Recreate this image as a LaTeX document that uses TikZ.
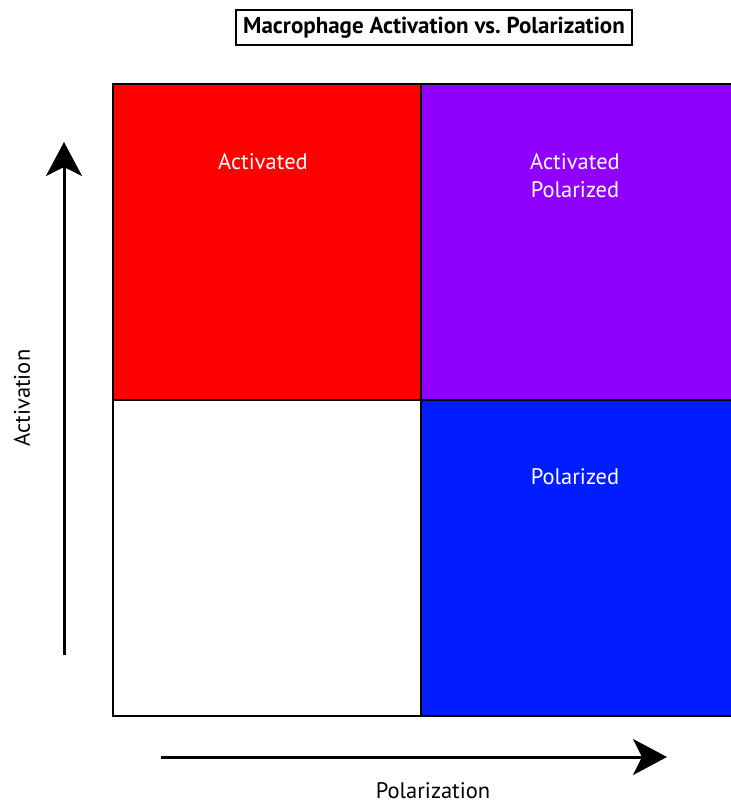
\documentclass[tikz,border=0pt]{standalone}
\usepackage{fontspec}
\setmainfont{PT Sans}
\usetikzlibrary{arrows.meta}
\definecolor{qred}{RGB}{255,0,0}
\definecolor{qpurple}{RGB}{143,0,255}
\definecolor{qblue}{RGB}{0,28,255}
\tikzset{
  quad/.style={draw=black, line width=2pt, minimum width=308pt, minimum height=316pt, inner sep=0pt, outer sep=0pt},
  qlabel/.style={text=white, font=\fontsize{22.5pt}{28pt}\selectfont, align=center},
  axlabel/.style={text=black, font=\fontsize{22.5pt}{27pt}\selectfont},
  axarrow/.style={line width=3pt, -{Stealth[length=34pt, width=36pt, inset=9pt]}}
}
\begin{document}
\begin{tikzpicture}[x=1pt,y=1pt]
\useasboundingbox (0,0) rectangle (731,-801);
\clip (0,0) rectangle (731,-801);
% quadrants
\node[quad, fill=white]  (ll) at (267,-558) {};
\node[quad, fill=qred]   (ul) at (267,-242) {};
\node[quad, fill=qpurple, minimum width=330pt] (ur) at (586,-242) {};
\node[quad, fill=qblue, minimum width=330pt]   (lr) at (586,-558) {};
% labels
\node[qlabel] (la) at (263,-162) {Activated};
\node[qlabel] (lap) at (575,-176) {Activated\\Polarized};
\node[qlabel] (lp) at (575,-477) {Polarized};
% title
\node[draw=black, line width=2pt, minimum width=396pt, minimum height=35pt, inner sep=0pt, font=\bfseries\fontsize{23pt}{27pt}\selectfont] (title) at (434,-27.5) {Macrophage Activation vs.\ Polarization};
% axes
\coordinate (vs) at (64,-655);
\coordinate (ve) at (64,-142);
\coordinate (hs) at (161,-757);
\coordinate (he) at (667,-757);
\draw[axarrow] (vs) -- (ve);
\draw[axarrow] (hs) -- (he);
\node[axlabel, rotate=90] (ya) at (22,-398) {Activation};
\node[axlabel, anchor=base, inner sep=0pt] (xa) at (433,-798) {Polarization};
\end{tikzpicture}
\end{document}
